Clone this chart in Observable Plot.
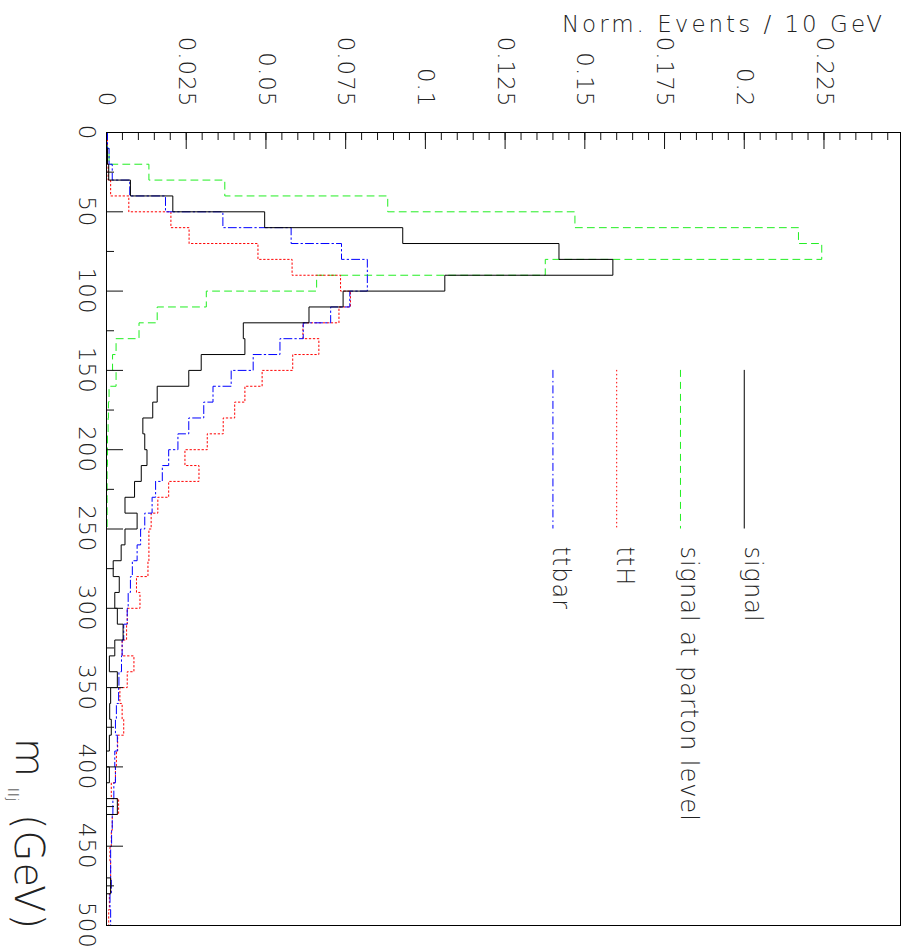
<!DOCTYPE html>
<html><head><meta charset="utf-8">
<script src="https://cdn.jsdelivr.net/npm/d3@7"></script>
<script src="https://cdn.jsdelivr.net/npm/@observablehq/plot@0.6"></script>
<style>body{margin:0;background:#fff} svg{display:block}</style>
</head><body><div id="chart"></div>
<script>
// ---- data (10 GeV bins from 0 to 500 GeV), normalised events ----
const binWidth = 10;
const signal = [0, 0.0003, 0.0007, 0.0075, 0.0208, 0.0496, 0.0929, 0.1419, 0.1588, 0.1061,
  0.0742, 0.0635, 0.0429, 0.0434, 0.0297, 0.0258, 0.0159, 0.0145, 0.0114, 0.0120,
  0.0127, 0.0109, 0.0088, 0.0058, 0.0096, 0.0058, 0.0046, 0.0021, 0.0040, 0.0026,
  0.0034, 0.0052, 0.0026, 0.0009, 0.0034, 0.0013, 0.0010, 0.0015, 0.0009, 0,
  0.0009, 0, 0.0034, 0, 0, 0, 0, 0.0013, 0, 0];
const parton = [0.0003, 0.0008, 0.0133, 0.0371, 0.0882, 0.1469, 0.2170, 0.2243, 0.1376, 0.0659,
  0.0313, 0.0159, 0.0102, 0.0030, 0.0019, 0.0030, 0.0008, 0.0006, 0.0005, 0.0003,
  0.0003, 0.0002, 0.0002, 0.0002, 0.0002, 0, 0, 0, 0, 0,
  0, 0, 0, 0, 0, 0, 0, 0, 0, 0,
  0, 0, 0, 0, 0, 0, 0, 0, 0, 0];
const ttH = [0.0003, 0.0003, 0.0005, 0.0013, 0.0070, 0.0202, 0.0259, 0.0475, 0.0582, 0.0734,
  0.0765, 0.0729, 0.0616, 0.0666, 0.0584, 0.0488, 0.0434, 0.0402, 0.0366, 0.0316,
  0.0246, 0.0290, 0.0195, 0.0161, 0.0140, 0.0133, 0.0133, 0.0130, 0.0094, 0.0105,
  0.0065, 0.0063, 0.0049, 0.0086, 0.0065, 0.0042, 0.0049, 0.0054, 0.0035, 0.0031,
  0.0028, 0.0015, 0.0038, 0.0018, 0.0015, 0.0011, 0.0013, 0.0013, 0.0009, 0.0007];
const ttbar = [0.0003, 0.0008, 0.0018, 0.0073, 0.0185, 0.0365, 0.0579, 0.0737, 0.0818, 0.0818,
  0.0763, 0.0703, 0.0617, 0.0544, 0.0460, 0.0391, 0.0334, 0.0305, 0.0258, 0.0224,
  0.0195, 0.0175, 0.0154, 0.0143, 0.0120, 0.0107, 0.0096, 0.0081, 0.0075, 0.0068,
  0.0065, 0.0054, 0.0049, 0.0047, 0.0039, 0.0038, 0.0031, 0.0028, 0.0034, 0.0026,
  0.0028, 0.0023, 0.0020, 0.0018, 0.0016, 0.0013, 0.0013, 0.0015, 0.0011, 0.0013];

// axis ticks
const valueTicks = [0, 0.025, 0.05, 0.075, 0.1, 0.125, 0.15, 0.175, 0.2, 0.225];
const valueTickLabels = ["0", "0.025", "0.05", "0.075", "0.1", "0.125", "0.15", "0.175", "0.2", "0.225"];
const valueMinorStep = 0.005;
const massTicks = [0, 50, 100, 150, 200, 250, 300, 350, 400, 450, 500];
const massTickLabels = ["0", "50", "100", "150", "200", "250", "300", "350", "400", "450", "500"];
const massMinorTicks = [25, 75, 125, 175, 225, 275, 325, 375, 425, 475];

// legend (placed in data coordinates, as in the original)
const legendNames = ["signal", "signal at parton level", "ttH", "ttbar"];
const legendAt = [0.2, 0.18, 0.16, 0.14];
const legendSpan = [150, 250, 261];

const styles = {
  "signal": {stroke: "#000000", dash: null},
  "signal at parton level": {stroke: "#22ee22", dash: "7,5"},
  "ttH": {stroke: "#ff0000", dash: "1.5,2.5"},
  "ttbar": {stroke: "#0000ff", dash: "8,3,1.5,3"}
};

// ---- build ----
const W = 905, H = 952;
const mL = 106, mR = 5, mT = 132, mB = 27;
const innerW = W - mL - mR, innerH = H - mT - mB;
const FONT = "'DejaVu Sans', 'Liberation Sans', sans-serif";

function outline(vals) {
  const pts = [{m: 0, v: 0}];
  vals.forEach((v, i) => { pts.push({m: i * binWidth, v}); pts.push({m: (i + 1) * binWidth, v}); });
  pts.push({m: vals.length * binWidth, v: 0});
  return pts;
}
const series = [["signal at parton level", parton], ["ttH", ttH], ["ttbar", ttbar], ["signal", signal]];
const minorX = d3.range(0, 0.2491, valueMinorStep);
const legend = legendNames.map((name, i) => ({name, x: legendAt[i]}));

const marks = [];
for (const [name, vals] of series) {
  const s = styles[name];
  marks.push(Plot.line(outline(vals), {x: "v", y: "m", stroke: s.stroke, strokeWidth: 1, strokeDasharray: s.dash, curve: "linear"}));
}
marks.push(
  Plot.tickX(minorX, {x: d => d, insetBottom: innerH - 8, stroke: "#111", strokeWidth: 1}),
  Plot.tickX(valueTicks, {x: d => d, insetBottom: innerH - 17, stroke: "#111", strokeWidth: 1}),
  Plot.tickY(massMinorTicks, {y: d => d, insetRight: innerW - 8, stroke: "#111", strokeWidth: 1}),
  Plot.tickY(massTicks, {y: d => d, insetRight: innerW - 17, stroke: "#111", strokeWidth: 1}),
  Plot.frame({stroke: "#000", strokeWidth: 1}),
  Plot.text(valueTicks, {x: d => d, text: (d, i) => valueTickLabels[i], frameAnchor: "top", dy: -25,
    rotate: 90, textAnchor: "end", lineAnchor: "middle", fontSize: 23, fill: "#222", fontFamily: FONT, fontWeight: 200}),
  Plot.text(massTicks, {y: d => d, text: (d, i) => massTickLabels[i], frameAnchor: "left", dx: -20,
    rotate: 90, textAnchor: "middle", lineAnchor: "middle", fontSize: 23, fill: "#222", fontFamily: FONT, fontWeight: 200})
);
for (const d of legend) {
  const s = styles[d.name];
  marks.push(
    Plot.ruleX([d], {x: "x", y1: legendSpan[0], y2: legendSpan[1], stroke: s.stroke, strokeDasharray: s.dash, strokeWidth: 1}),
    Plot.text([d], {x: "x", y: legendSpan[2], text: "name", rotate: 90, textAnchor: "start", lineAnchor: "middle", dx: 8,
      fontSize: 24, fill: "#222", fontFamily: FONT, fontWeight: 200})
  );
}

const chart = Plot.plot({
  width: W, height: H,
  marginLeft: mL, marginRight: mR, marginTop: mT, marginBottom: mB,
  x: {domain: [0, 0.249], axis: null},
  y: {domain: [0, 500], reverse: true, axis: null},
  style: {background: "#fff", fontFamily: FONT},
  marks
});

const svg = d3.select(chart);
svg.selectAll("text").style("letter-spacing", "1px");
svg.append("text")
  .attr("x", 885).attr("y", 32).attr("text-anchor", "end")
  .attr("font-family", FONT).attr("font-weight", 200).attr("font-size", 23)
  .attr("letter-spacing", "3px").attr("fill", "#222")
  .text("Norm. Events / 10 GeV");

const ax = svg.append("g").attr("font-family", FONT).attr("font-weight", 200).attr("fill", "#222").attr("text-anchor", "start");
ax.append("text").attr("transform", "translate(16,738) rotate(90)").attr("font-size", 40).text("m");
ax.append("text").attr("transform", "translate(8,788) rotate(90)").attr("font-size", 14).attr("letter-spacing", "1px").text("llj");
ax.append("text").attr("transform", "translate(15,814) rotate(90)").attr("font-size", 40).attr("letter-spacing", "1px").text("(GeV)");

document.getElementById("chart").appendChild(chart);
</script></body></html>
